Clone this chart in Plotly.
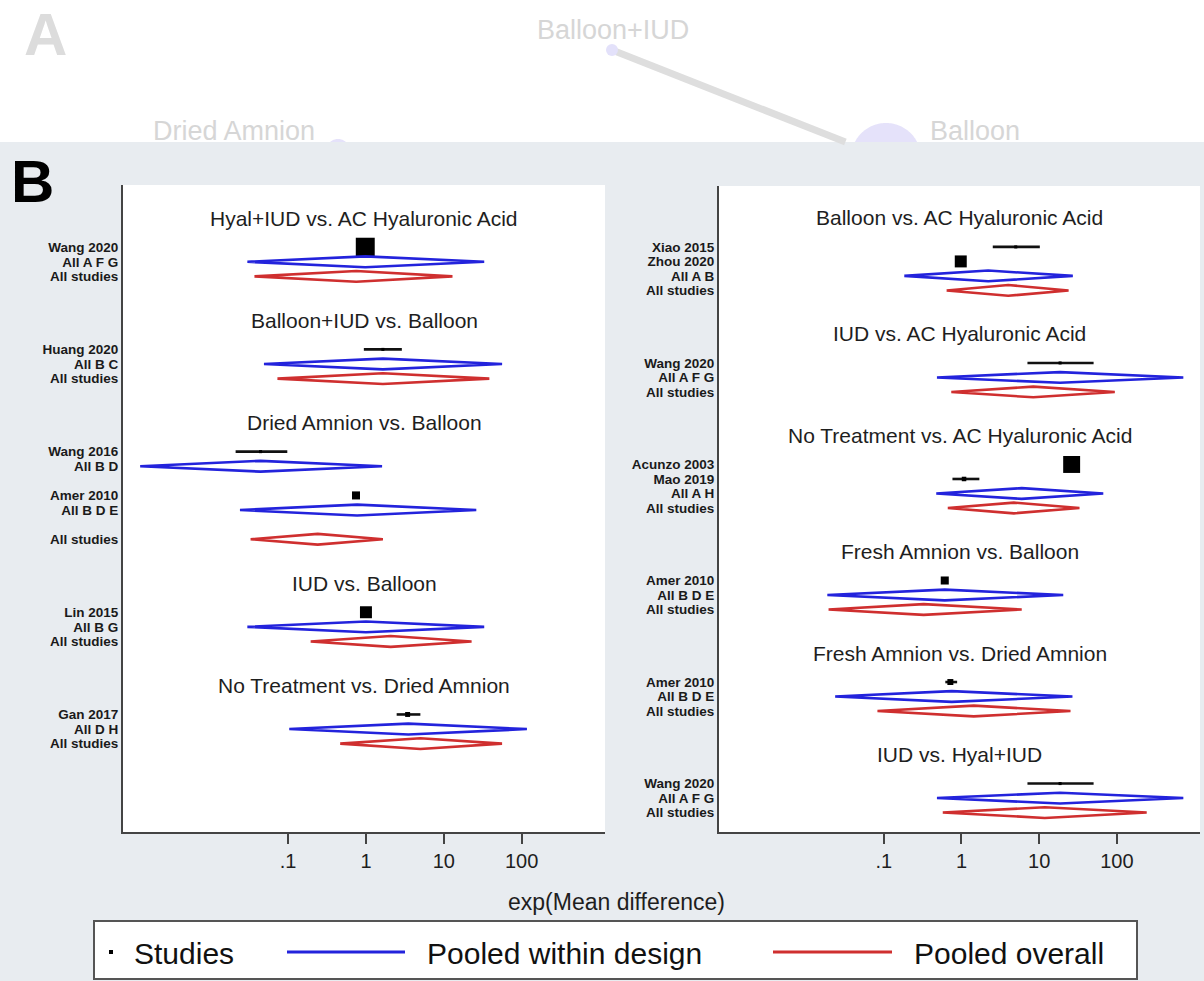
import numpy as np
import plotly.graph_objects as go

W, H = 1204, 981

# ---------------- data ----------------
comp_titles = [
    "Hyal+IUD vs. AC Hyaluronic Acid", "Balloon+IUD vs. Balloon", "Dried Amnion vs. Balloon",
    "IUD vs. Balloon", "No Treatment vs. Dried Amnion",
    "Balloon vs. AC Hyaluronic Acid", "IUD vs. AC Hyaluronic Acid", "No Treatment vs. AC Hyaluronic Acid",
    "Fresh Amnion vs. Balloon", "Fresh Amnion vs. Dried Amnion", "IUD vs. Hyal+IUD",
]
comp_panel = [0, 0, 0, 0, 0, 1, 1, 1, 1, 1, 1]

overall_est = [0.75, 1.65, 0.24, 2.08, 5.0, 4.0, 8.4, 4.73, 0.326, 1.44, 11.8]
overall_lo = [0.037, 0.073, 0.033, 0.195, 0.467, 0.645, 0.74, 0.667, 0.0195, 0.083, 0.575]
overall_hi = [12.9, 38.4, 1.65, 22.7, 55.9, 23.9, 94.0, 33.0, 5.96, 25.3, 242.0]

design_comp = [0, 1, 2, 2, 3, 4, 5, 6, 7, 8, 9, 10]
design_names = ["All A F G", "All B C", "All B D", "All B D E", "All B G", "All D H",
                "All A B", "All A F G", "All A H", "All B D E", "All B D E", "All A F G"]
design_est = [0.98, 1.65, 0.0443, 0.77, 1.0, 3.5, 2.21, 18.6, 5.96, 0.61, 0.75, 18.6]
design_lo = [0.030, 0.049, 0.00126, 0.0241, 0.030, 0.1035, 0.184, 0.484, 0.474, 0.0188, 0.0237, 0.484]
design_hi = [33.0, 56.0, 1.61, 26.1, 33.0, 116.6, 27.1, 716.0, 66.8, 20.4, 26.8, 716.0]

study_design = [0, 1, 2, 3, 4, 5, 6, 6, 7, 8, 8, 9, 10, 11]
study_names = ["Wang 2020", "Huang 2020", "Wang 2016", "Amer 2010", "Lin 2015", "Gan 2017",
               "Xiao 2015", "Zhou 2020", "Wang 2020", "Acunzo 2003", "Mao 2019",
               "Amer 2010", "Amer 2010", "Wang 2020"]
study_est = [0.98, 1.65, 0.0443, 0.745, 1.0, 3.43, 5.0, 0.98, 18.6, 26.2, 1.08, 0.61, 0.72, 18.6]
study_lo = [0.90, 0.94, 0.0212, 0.70, 0.95, 2.48, 2.53, 0.94, 7.07, 25.0, 0.766, 0.59, 0.62, 7.07]
study_hi = [1.05, 2.89, 0.0977, 0.80, 1.05, 5.0, 10.2, 1.03, 50.2, 27.5, 1.70, 0.64, 0.88, 50.2]
study_weight = [35, 0.9, 0.9, 6.3, 14, 2.4, 0.9, 14, 0.9, 28, 2.0, 6.3, 3.5, 0.9]

x_tickvals = [0.1, 1, 10, 100]
x_ticktext = [".1", "1", "10", "100"]
x_title = "exp(Mean difference)"
legend_labels = ["Studies", "Pooled within design", "Pooled overall"]

# ---------------- styles ----------------
FONT = "Liberation Sans, Arial, Helvetica, sans-serif"
BLUE = "#2323dc"
RED = "#cf2f2f"
AXIS = "#444444"
BAND = "#e8ecf0"
FADED = "#d6d6d6"
DH = 0.37  # diamond half height (rows)


def px(x):
    return x / W


def py(y):
    return 1 - y / H


fig = go.Figure()

# ---------------- row layout ----------------
tick_rows = {0: [], 1: []}
tick_text = {0: [], 1: []}
title_rows = {}
for p in (0, 1):
    row = 0
    for c, t in enumerate(comp_titles):
        if comp_panel[c] != p:
            continue
        xa, ya = ("x", "y") if p == 0 else ("x2", "y2")
        title_rows[c] = row
        row += 2
        ds = [d for d in range(len(design_comp)) if design_comp[d] == c]
        multi = len(ds) > 1
        for d in ds:
            for s in range(len(study_design)):
                if study_design[s] != d:
                    continue
                fig.add_trace(go.Scatter(x=[study_lo[s], study_hi[s]], y=[row, row], mode="lines",
                                         line=dict(color="#111111", width=2.6), xaxis=xa, yaxis=ya,
                                         hoverinfo="skip"))
                fig.add_trace(go.Scatter(x=[study_est[s]], y=[row], mode="markers",
                                         marker=dict(symbol="square", color="black",
                                                     size=max(3.2 * np.sqrt(study_weight[s]), 3)),
                                         xaxis=xa, yaxis=ya, name=study_names[s]))
                tick_rows[p].append(row)
                tick_text[p].append(study_names[s])
                row += 1
            fig.add_trace(go.Scatter(
                x=[design_lo[d], design_est[d], design_hi[d], design_est[d], design_lo[d]],
                y=[row, row - DH, row, row + DH, row], mode="lines",
                line=dict(color=BLUE, width=2.6), xaxis=xa, yaxis=ya, name=design_names[d]))
            tick_rows[p].append(row)
            tick_text[p].append(design_names[d])
            row += 1
            if multi:
                row += 1
        fig.add_trace(go.Scatter(
            x=[overall_lo[c], overall_est[c], overall_hi[c], overall_est[c], overall_lo[c]],
            y=[row, row - DH, row, row + DH, row], mode="lines",
            line=dict(color=RED, width=2.6), xaxis=xa, yaxis=ya, name="All studies"))
        tick_rows[p].append(row)
        tick_text[p].append("All studies")
        row += 3
        fig.add_annotation(text=t, xref=("x domain" if p == 0 else "x2 domain"), x=0.5,
                           yref=ya, y=title_rows[c], showarrow=False, xanchor="center", yanchor="middle",
                           font=dict(family=FONT, size=21, color="#1e1e1e"))

axis_common = dict(showgrid=False, zeroline=False, showline=True, linecolor=AXIS, linewidth=2)
xcommon = dict(axis_common, type="log", range=[-3.12, 3.07], tickvals=x_tickvals, ticktext=x_ticktext,
               ticks="outside", ticklen=10, tickwidth=2, tickcolor=AXIS,
               tickfont=dict(family=FONT, size=20, color="#1e1e1e"))
ycommon = dict(axis_common, ticks="", tickfont=dict(family=FONT, size=13.5, color="#1a1a1a"))

fig.update_layout(
    width=W, height=H, margin=dict(l=0, r=0, t=0, b=0),
    paper_bgcolor=BAND, plot_bgcolor="white", showlegend=False,
    xaxis=dict(xcommon, domain=[px(123), px(605)], anchor="y"),
    yaxis=dict(ycommon, domain=[py(832), py(185)], range=[42.05, -2.26], anchor="x",
               tickvals=tick_rows[0], ticktext=["<b>" + s + "</b>" for s in tick_text[0]]),
    xaxis2=dict(xcommon, domain=[px(719), px(1200)], anchor="y2"),
    yaxis2=dict(ycommon, domain=[py(832), py(186)], range=[42.34, -2.2], anchor="x2",
                tickvals=tick_rows[1], ticktext=["<b>" + s + "</b>" for s in tick_text[1]]),
)


def paper_text(text, x, y, size, color, xanchor="center"):
    fig.add_annotation(text=text, xref="paper", yref="paper", x=px(x), y=py(y), showarrow=False,
                       xanchor=xanchor, yanchor="middle", font=dict(family=FONT, size=size, color=color))


# x-axis title
paper_text(x_title, 616, 902, 23, "#1e1e1e")

# ---------------- faded panel A (top strip) ----------------
shapes = []
shapes.append(dict(type="rect", xref="paper", yref="paper", x0=0, x1=1, y0=py(142), y1=1,
                   fillcolor="white", line=dict(width=0), layer="below"))
ycut = 142
n1 = (612, 50)
n2 = (886, 158)
xcut = n1[0] + (ycut - n1[1]) * (n2[0] - n1[0]) / (n2[1] - n1[1])
shapes.append(dict(type="line", xref="paper", yref="paper", x0=px(n1[0]), y0=py(n1[1]),
                   x1=px(xcut), y1=py(ycut), line=dict(color="#dedede", width=7), layer="below"))


def clipped_circle(cx, cy, r, yc):
    th = np.linspace(0, np.pi, 80)
    pts = [(cx + r * np.cos(a), cy - r * np.sin(a)) for a in th]
    pts = [(x, y) for x, y in pts if y <= yc]
    dy = cy - yc
    if abs(dy) < r:
        dx = np.sqrt(r * r - dy * dy)
        pts = [(cx + dx, yc)] + pts + [(cx - dx, yc)]
    return "M " + " L ".join(f"{px(x):.5f},{py(y):.5f}" for x, y in pts) + " Z"


shapes.append(dict(type="circle", xref="paper", yref="paper", x0=px(606), x1=px(618), y0=py(56),
                   y1=py(44), fillcolor="#e3e1fa", line=dict(width=0), layer="below"))
shapes.append(dict(type="path", xref="paper", yref="paper", path=clipped_circle(886, 158, 35, ycut),
                   fillcolor="#e5e2fa", line=dict(width=0), layer="below"))
shapes.append(dict(type="path", xref="paper", yref="paper", path=clipped_circle(338, 151, 12, ycut),
                   fillcolor="#e5e2fa", line=dict(width=0), layer="below"))

# ---------------- legend box ----------------
shapes.append(dict(type="rect", xref="paper", yref="paper", x0=px(94), x1=px(1137), y0=py(979), y1=py(921),
                   fillcolor="white", line=dict(color="#555555", width=2)))
shapes.append(dict(type="rect", xref="paper", yref="paper", x0=px(109), x1=px(113), y0=py(954), y1=py(950),
                   fillcolor="black", line=dict(width=0)))
shapes.append(dict(type="line", xref="paper", yref="paper", x0=px(287), x1=px(405), y0=py(952), y1=py(952),
                   line=dict(color=BLUE, width=3)))
shapes.append(dict(type="line", xref="paper", yref="paper", x0=px(773), x1=px(892), y0=py(952), y1=py(952),
                   line=dict(color=RED, width=3)))
fig.update_layout(shapes=shapes)

for xpos, lab in zip([132, 425, 912], legend_labels):
    paper_text(lab, xpos, 953, 30, "#111111", xanchor="left")

# panel letters and faded node labels
paper_text("<b>A</b>", 45, 34, 60, "#dcdcdc")
paper_text("<b>B</b>", 32, 181, 60, "black")
paper_text("Balloon+IUD", 613, 30, 27, FADED)
paper_text("Dried Amnion", 151, 131, 27, FADED, xanchor="left")
paper_text("Balloon", 928, 131, 27, FADED, xanchor="left")

fig.write_html("out.html", config={"displayModeBar": False},
               post_script="document.body.style.margin='0px';")
